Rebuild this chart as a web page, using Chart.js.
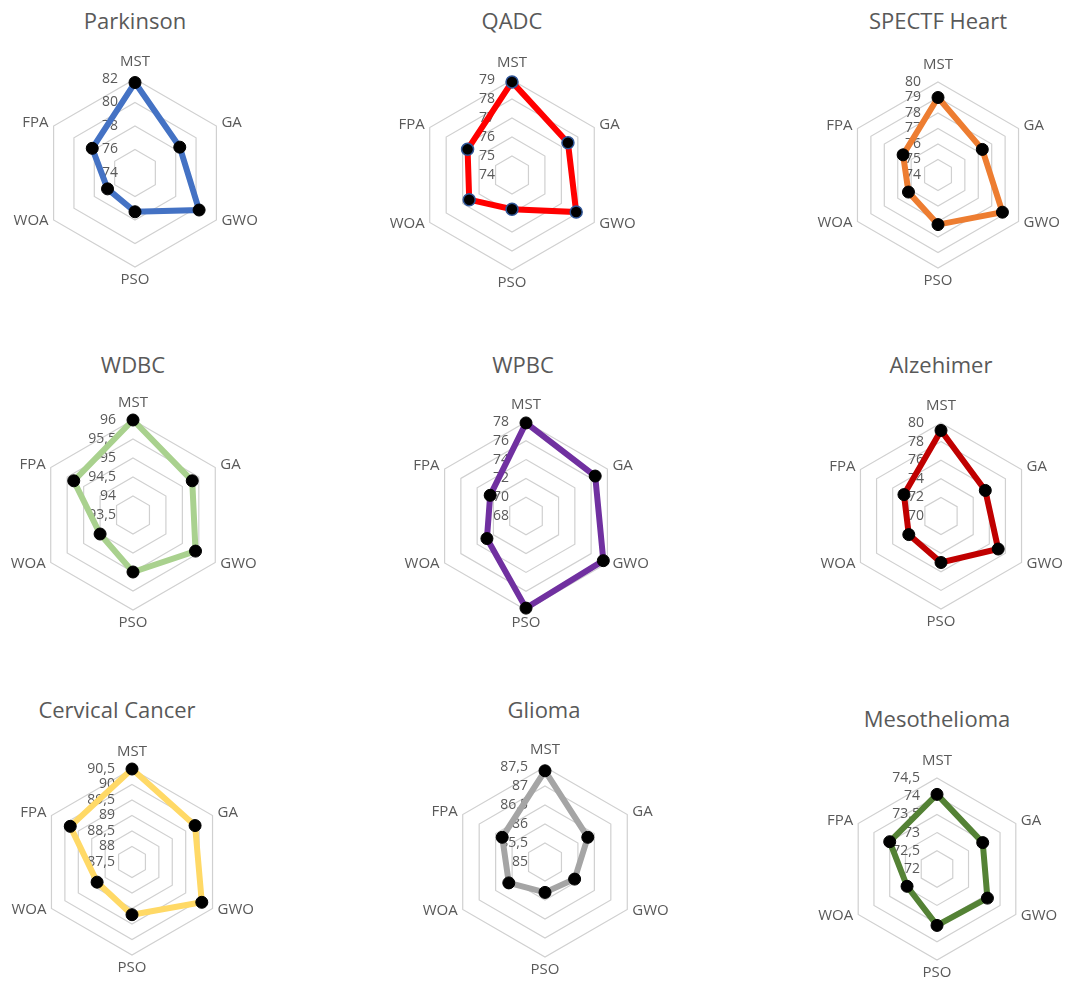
<!DOCTYPE html>
<html>
<head>
<meta charset="utf-8">
<script src="https://cdn.jsdelivr.net/npm/chart.js@4/dist/chart.umd.min.js"></script>
<style>
  html, body { margin: 0; padding: 0; background: #ffffff; }
  body { width: 1080px; height: 988px; position: relative; overflow: hidden; }
  .title {
    position: absolute; width: 300px; text-align: center;
    font-family: "Open Sans", sans-serif; font-size: 22px; line-height: 30px;
    color: #595959; white-space: nowrap;
  }
  canvas { position: absolute; }
</style>
</head>
<body>
<script>
// Criteria shared by every radar
const criteria = ['MST', 'GA', 'GWO', 'PSO', 'WOA', 'FPA'];

// Accuracy per dataset, in criteria order
const parkinson    = [81.7, 78.4, 80.3, 77.3, 76.7, 78.2];
const qadc         = [78.9, 77.4, 77.9, 75.8, 76.6, 76.7];
const spectfHeart  = [79.0, 77.3, 78.8, 77.2, 76.2, 76.6];
const wdbc         = [96.0, 95.3, 95.4, 95.0, 94.5, 95.3];
const wpbc         = [77.9, 76.5, 77.5, 77.8, 72.8, 72.4];
const alzehimer    = [79.2, 75.5, 77.1, 75.0, 74.0, 74.6];
const cervical     = [90.5, 89.85, 90.1, 89.2, 88.8, 89.8];
const glioma       = [87.4, 86.3, 85.9, 85.8, 86.1, 86.3];
const mesothelioma = [74.05, 73.45, 73.6, 73.55, 72.95, 73.5];

// Radial tick values per dataset (first value sits at the centre)
const parkinsonTicks    = [74, 76, 78, 80, 82];
const qadcTicks         = [74, 75, 76, 77, 78, 79];
const spectfHeartTicks  = [74, 75, 76, 77, 78, 79, 80];
const wdbcTicks         = [93.5, 94, 94.5, 95, 95.5, 96];
const wpbcTicks         = [68, 70, 72, 74, 76, 78];
const alzehimerTicks    = [70, 72, 74, 76, 78, 80];
const cervicalTicks     = [87.5, 88, 88.5, 89, 89.5, 90, 90.5];
const gliomaTicks       = [85, 85.5, 86, 86.5, 87, 87.5];
const mesotheliomaTicks = [72, 72.5, 73, 73.5, 74, 74.5];

const titles = ['Parkinson', 'QADC', 'SPECTF Heart', 'WDBC', 'WPBC', 'Alzehimer',
                'Cervical Cancer', 'Glioma', 'Mesothelioma'];

// Panel layout: radar centre, radius, title centre x and title baseline
const panels = [
  { title: titles[0], values: parkinson,    ticks: parkinsonTicks,    color: '#4472C4', cx: 135, cy: 173, r: 94, tx: 135, tb: 28 },
  { title: titles[1], values: qadc,         ticks: qadcTicks,         color: '#FF0000', cx: 512, cy: 175, r: 95, tx: 512, tb: 28, pointBorder: '#2F5597' },
  { title: titles[2], values: spectfHeart,  ticks: spectfHeartTicks,  color: '#ED7D31', cx: 938, cy: 175, r: 93, tx: 938, tb: 28 },
  { title: titles[3], values: wdbc,         ticks: wdbcTicks,         color: '#A9D18E', cx: 133, cy: 515, r: 95, tx: 133, tb: 372 },
  { title: titles[4], values: wpbc,         ticks: wpbcTicks,         color: '#7030A0', cx: 526, cy: 516, r: 94, tx: 523, tb: 372 },
  { title: titles[5], values: alzehimer,    ticks: alzehimerTicks,    color: '#C00000', cx: 941, cy: 516, r: 93, tx: 941, tb: 372 },
  { title: titles[6], values: cervical,     ticks: cervicalTicks,     color: '#FFD966', cx: 132, cy: 862, r: 93, tx: 117, tb: 717 },
  { title: titles[7], values: glioma,       ticks: gliomaTicks,       color: '#A5A5A5', cx: 545, cy: 862, r: 95, tx: 544, tb: 717 },
  { title: titles[8], values: mesothelioma, ticks: mesotheliomaTicks, color: '#548235', cx: 937, cy: 869, r: 91, tx: 937, tb: 726 }
];

const TEXT = '#595959';
const FONT = '"Open Sans", sans-serif';
const CW = 340, CH = 310;

const fmt = v => String(v).replace('.', ',');

// Excel-style radar labels: tick values left of the vertical axis, category names around the rim
const radarLabels = {
  id: 'radarLabels',
  beforeDatasetsDraw(chart) {
    const s = chart.scales.r;
    const ctx = chart.ctx;
    ctx.save();
    ctx.fillStyle = TEXT;
    ctx.font = '14px ' + FONT;
    ctx.textAlign = 'right';
    ctx.textBaseline = 'middle';
    s.ticks.forEach(t => {
      const d = s.getDistanceFromCenterForValue(t.value);
      ctx.fillText(fmt(t.value), s.xCenter - 17, s.yCenter - d);
    });
    ctx.restore();
  },
  afterDraw(chart) {
    const s = chart.scales.r;
    const ctx = chart.ctx;
    const R = s.drawingArea;
    ctx.save();
    ctx.fillStyle = TEXT;
    ctx.font = '15px ' + FONT;
    ctx.textBaseline = 'middle';
    chart.data.labels.forEach((lab, i) => {
      if (i === 0) {
        const p = s.getPointPosition(i, R + 17);
        ctx.textAlign = 'center';
        ctx.fillText(lab, p.x, p.y);
      } else if (i === 3) {
        const p = s.getPointPosition(i, R + 13);
        ctx.textAlign = 'center';
        ctx.fillText(lab, p.x, p.y);
      } else {
        const p = s.getPointPosition(i, R);
        const right = p.x > s.xCenter;
        const upper = p.y < s.yCenter;
        ctx.textAlign = right ? 'left' : 'right';
        ctx.fillText(lab, p.x + (right ? 5 : -5), p.y + (upper ? -3 : 1));
      }
    });
    ctx.restore();
  }
};

panels.forEach(pn => {
  const t = document.createElement('div');
  t.className = 'title';
  t.textContent = pn.title;
  t.style.left = (pn.tx - 150) + 'px';
  t.style.top = (pn.tb - 23.5) + 'px';
  document.body.appendChild(t);

  const cv = document.createElement('canvas');
  cv.width = CW; cv.height = CH;
  cv.style.width = CW + 'px'; cv.style.height = CH + 'px';
  cv.style.left = (pn.cx - CW / 2) + 'px';
  cv.style.top = (pn.cy - CH / 2) + 'px';
  document.body.appendChild(cv);

  const padX = CW / 2 - pn.r, padY = CH / 2 - pn.r;
  const tickValues = pn.ticks;

  new Chart(cv, {
    type: 'radar',
    data: {
      labels: criteria,
      datasets: [{
        data: pn.values,
        borderColor: pn.color,
        backgroundColor: pn.color,
        borderWidth: 6,
        fill: false,
        tension: 0,
        clip: false,
        pointRadius: 6,
        pointHoverRadius: 6,
        pointBackgroundColor: '#000000',
        pointBorderColor: pn.pointBorder || '#000000',
        pointBorderWidth: pn.pointBorder ? 1.5 : 1
      }]
    },
    options: {
      responsive: false,
      animation: false,
      devicePixelRatio: 1,
      layout: { padding: { left: padX, right: padX, top: padY, bottom: padY } },
      plugins: { legend: { display: false }, tooltip: { enabled: false }, title: { display: false } },
      events: [],
      scales: {
        r: {
          min: tickValues[0],
          max: tickValues[tickValues.length - 1],
          afterBuildTicks: scale => { scale.ticks = tickValues.map(v => ({ value: v })); },
          ticks: { display: false },
          grid: { color: '#D0D0D0', lineWidth: 1.2, circular: false },
          angleLines: { display: false },
          pointLabels: { display: false }
        }
      }
    },
    plugins: [radarLabels]
  });
});
</script>
</body>
</html>
